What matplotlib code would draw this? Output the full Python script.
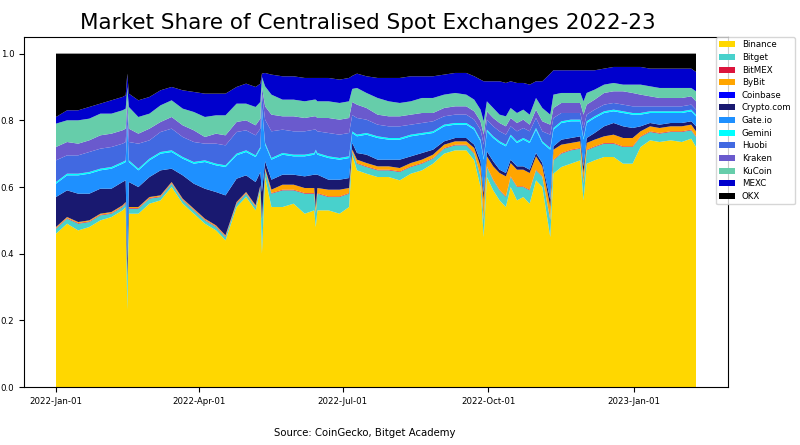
import numpy as np
import matplotlib
matplotlib.use('Agg')
import matplotlib.pyplot as plt
import matplotlib.dates as mdates

# days since 2022-01-01 for each reading
days = [0, 7, 14, 21, 28, 35, 42, 44, 45, 46, 52, 59, 66, 73, 80, 87, 94, 101, 107,
        114, 120, 126, 129, 130, 132, 136, 143, 150, 157, 163, 164, 165, 172, 179,
        185, 187, 190, 196, 203, 210, 217, 224, 231, 238, 245, 252, 259, 264, 268,
        270, 272, 276, 280, 284, 287, 291, 295, 299, 303, 307, 312, 314, 319, 325,
        331, 333, 335, 340, 346, 352, 358, 364, 369, 375, 381, 388, 395, 401, 404]

binance = [.460, .490, .470, .480, .500, .510, .530, .540, .230, .520, .520, .550, .560, .600, .550, .520, .490, .470, .440,
           .540, .570, .530, .590, .400, .630, .540, .540, .550, .520, .530, .480, .530, .530, .520,
           .540, .710, .650, .640, .630, .630, .620, .640, .650, .670, .700, .710, .710, .680, .600,
           .450, .630, .590, .560, .540, .600, .560, .570, .550, .620, .600, .450, .640, .660, .670,
           .680, .560, .670, .680, .690, .690, .670, .670, .720, .740, .735, .740, .735, .745, .720]
bitget = [.015, .015, .020, .015, .015, .010, .010, .010, .100, .015, .015, .015, .010, .010, .010, .010, .010, .010, .010,
          .010, .010, .010, .010, .100, .020, .040, .050, .040, .060, .050, .040, .050, .040, .050,
          .040, .010, .020, .020, .020, .020, .025, .020, .020, .015, .015, .015, .015, .020, .030,
          .050, .030, .030, .030, .030, .030, .040, .030, .040, .030, .030, .050, .040, .040, .040,
          .035, .050, .040, .040, .040, .040, .050, .050, .030, .025, .025, .025, .030, .025, .030]
bitmex = [.002] * len(days)
bybit = [.003, .003, .003, .003, .003, .003, .003, .003, .003, .003, .003, .003, .003, .003, .003, .003, .003, .003, .003,
         .003, .003, .003, .003, .003, .005, .010, .015, .015, .015, .015, .015, .015, .020, .020,
         .015, .005, .010, .010, .010, .010, .010, .010, .010, .010, .010, .010, .010, .015, .030,
         .060, .030, .040, .050, .060, .040, .050, .050, .050, .040, .030, .040, .030, .025, .020,
         .020, .030, .020, .020, .020, .025, .025, .025, .015, .015, .015, .015, .015, .015, .015]
coinbase = [0.0] * len(days)
crypto_com = [.090, .080, .085, .080, .075, .070, .070, .065, .050, .075, .060, .060, .075, .040, .070, .075, .090, .100, .120,
              .070, .050, .070, .040, .080, .020, .030, .030, .030, .035, .040, .100, .040, .030, .030,
              .030, .020, .020, .025, .020, .020, .025, .020, .020, .015, .010, .010, .010, .010, .015,
              .020, .015, .015, .010, .010, .010, .010, .010, .010, .010, .010, .020, .010, .015, .015,
              .015, .020, .015, .020, .030, .035, .035, .030, .015, .010, .010, .010, .010, .010, .015]
gate_io = [.040, .045, .055, .060, .055, .060, .055, .055, .400, .060, .050, .050, .050, .050, .050, .060, .080, .080, .085,
           .070, .070, .075, .070, .250, .050, .060, .060, .055, .060, .060, .070, .060, .065, .060,
           .060, .030, .050, .060, .065, .060, .060, .060, .055, .050, .045, .040, .040, .045, .060,
           .100, .060, .070, .080, .080, .070, .070, .080, .080, .070, .060, .150, .050, .050, .050,
           .045, .080, .045, .045, .040, .035, .040, .040, .035, .030, .035, .030, .030, .030, .030]
gemini = [.005] * len(days)
huobi = [.065, .055, .055, .060, .060, .060, .055, .055, .040, .055, .075, .055, .060, .065, .060, .060, .050, .060, .060,
         .065, .060, .060, .055, .040, .070, .080, .070, .070, .070, .070, .060, .065, .070, .070,
         .070, .050, .050, .040, .035, .035, .035, .030, .030, .030, .025, .025, .025, .025, .030,
         .040, .030, .030, .030, .030, .025, .030, .030, .030, .030, .030, .040, .030, .025, .020,
         .020, .030, .020, .020, .020, .020, .020, .020, .020, .015, .015, .015, .015, .015, .015]
kraken = [.040, .040, .035, .035, .040, .040, .040, .040, .030, .040, .030, .035, .030, .035, .035, .035, .020, .030, .030,
          .030, .030, .030, .030, .020, .040, .050, .040, .045, .040, .040, .040, .040, .045, .045,
          .045, .040, .040, .035, .030, .030, .030, .030, .030, .025, .025, .025, .025, .025, .025,
          .030, .025, .025, .025, .025, .025, .025, .025, .020, .025, .030, .030, .030, .030, .030,
          .030, .040, .030, .030, .035, .035, .040, .040, .035, .030, .025, .025, .025, .025, .025]
kucoin = [.070, .065, .070, .065, .065, .060, .060, .060, .040, .065, .050, .045, .050, .050, .050, .055, .060, .055, .060,
          .055, .050, .055, .050, .030, .060, .060, .050, .050, .050, .050, .050, .050, .050, .050,
          .050, .040, .050, .045, .050, .045, .040, .040, .045, .045, .040, .040, .035, .035, .035,
          .040, .030, .030, .025, .030, .030, .030, .030, .030, .035, .040, .030, .040, .030, .030,
          .030, .040, .035, .030, .025, .025, .020, .025, .030, .030, .030, .030, .030, .025, .030]
mexc = [.020, .030, .030, .035, .030, .040, .040, .040, .040, .040, .050, .050, .045, .040, .055, .060, .070, .065, .065,
        .050, .060, .060, .055, .010, .040, .060, .070, .070, .070, .065, .065, .070, .070, .070,
        .070, .040, .043, .050, .060, .070, .075, .075, .065, .065, .060, .060, .065, .070, .090,
        .120, .060, .080, .100, .100, .080, .090, .080, .090, .050, .080, .123, .073, .068, .068,
        .068, .093, .068, .058, .048, .048, .053, .053, .053, .053, .058, .058, .058, .058, .058]
okx = [.190, .170, .170, .160, .150, .140, .130, .125, .060, .120, .140, .130, .110, .100, .110, .115, .120, .120, .120,
       .100, .090, .100, .090, .060, .058, .063, .068, .068, .073, .073, .073, .073, .073, .078,
       .073, .068, .060, .068, .073, .073, .073, .068, .068, .068, .063, .058, .058, .068, .078,
       .083, .083, .083, .083, .088, .083, .088, .088, .093, .083, .083, .060, .050, .050, .050,
       .050, .050, .050, .050, .045, .040, .040, .040, .040, .045, .045, .045, .045, .045, .055]

labels = ['Binance', 'Bitget', 'BitMEX', 'ByBit', 'Coinbase', 'Crypto.com', 'Gate.io',
          'Gemini', 'Huobi', 'Kraken', 'KuCoin', 'MEXC', 'OKX']
colors = ['gold', 'mediumturquoise', 'crimson', 'orange', 'blue', 'midnightblue', 'dodgerblue',
          'cyan', 'royalblue', 'slateblue', 'mediumaquamarine', 'mediumblue', 'black']

dates = np.datetime64('2022-01-01') + np.array(days).astype('timedelta64[D]')
series = np.array([binance, bitget, bitmex, bybit, coinbase, crypto_com, gate_io,
                   gemini, huobi, kraken, kucoin, mexc, okx])
# shares of the day's total volume
series = series / series.sum(axis=0)

fig = plt.figure(figsize=(8, 4.45), dpi=100)
ax = fig.add_axes([0.03, 0.13, 0.88, 0.787])
ax.stackplot(dates, *series, labels=labels, colors=colors)

ax.xaxis.set_major_locator(mdates.MonthLocator(bymonth=[1, 4, 7, 10]))
ax.xaxis.set_major_formatter(mdates.DateFormatter('%Y-%b-%d'))
ax.tick_params(labelsize=6.2)
ax.set_title('Market Share of Centralised Spot Exchanges 2022-23', fontsize=15.5, x=0.488)
ax.legend(loc='upper left', bbox_to_anchor=(0.895, 0.917), bbox_transform=fig.transFigure,
          fontsize=6.2, handlelength=1.8, labelspacing=0.42, borderaxespad=0)

fig.text(0.456, 0.028, 'Source: CoinGecko, Bitget Academy', ha='center', va='center', fontsize=7.3)
fig.savefig('out.png', dpi=100)
